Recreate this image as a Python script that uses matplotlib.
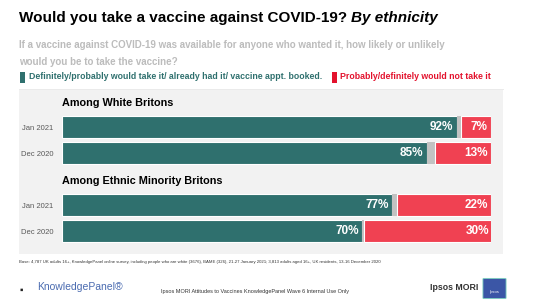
import matplotlib.pyplot as plt
from matplotlib.patches import Rectangle, FancyBboxPatch

plt.rcParams['font.family'] = ['Liberation Sans', 'DejaVu Sans']

W, H = 533, 300

# data
periods = ["Jan 2021", "Dec 2020", "Jan 2021", "Dec 2020"]
would_take = [92, 85, 77, 70]
dont_know = [1, 2, 1, 0.5]
would_not = [7, 13, 22, 30]
groups = ["Among White Britons", "Among Ethnic Minority Britons"]
positions = [0, 1, 3, 4]

TEAL = "#2f706e"
RED = "#f04152"
GREY = "#c2c2c2"


def fx(x):
    return x / W


def fy(y):
    return 1 - y / H


fig = plt.figure(figsize=(W / 100, H / 100), dpi=100)
fig.patch.set_facecolor("white")
renderer = fig.canvas.get_renderer()

# header
t1 = fig.text(fx(19), fy(18), "Would you take a vaccine against COVID-19? ", fontsize=11,
              fontweight="bold", va="center", ha="left")
x_end = t1.get_window_extent(renderer).x1 / fig.bbox.width
fig.text(x_end, fy(18), "By ethnicity", fontsize=11, fontweight="bold",
         style="italic", va="center", ha="left")
fig.text(fx(19), fy(45), "If a vaccine against COVID-19 was available for anyone who wanted it, how likely or unlikely",
         fontsize=7.0, fontweight="bold", color="#bcbcbc", va="center")
fig.text(fx(19), fy(62), "would you be to take the vaccine?",
         fontsize=7.0, fontweight="bold", color="#bcbcbc", va="center")

# legend
fig.patches.append(Rectangle((fx(20), fy(83)), fx(5), 11 / H, transform=fig.transFigure,
                             facecolor=TEAL, edgecolor="none"))
fig.text(fx(29), fy(77), "Definitely/probably would take it/ already had it/ vaccine appt. booked.",
         fontsize=6.3, fontweight="bold", color=TEAL, va="center")
fig.patches.append(Rectangle((fx(332), fy(83)), fx(5), 11 / H, transform=fig.transFigure,
                             facecolor="#e3122d", edgecolor="none"))
fig.text(fx(340), fy(77), "Probably/definitely would not take it",
         fontsize=6.3, fontweight="bold", color="#e3122d", va="center")
fig.add_artist(plt.Line2D([fx(19), fx(503)], [fy(89), fy(89)], transform=fig.transFigure,
                          color="#e6e6e6", linewidth=0.6))

# grey panel
fig.patches.append(Rectangle((fx(19), fy(254)), fx(484), 164 / H, transform=fig.transFigure,
                             facecolor="#f2f2f2", edgecolor="none", zorder=-5))

fig.text(fx(62), fy(103), groups[0], fontsize=7.8, fontweight="bold", va="center")
fig.text(fx(62), fy(181), groups[1], fontsize=7.8, fontweight="bold", va="center")

# bars
ax = fig.add_axes([fx(62), fy(244), fx(491) - fx(62), 130 / H])
ax.set_facecolor("none")
ax.set_zorder(2)
h = 0.85
ax.barh(positions, would_take, height=h, color=TEAL, edgecolor="white", linewidth=0.8)
ax.barh(positions, dont_know, left=would_take, height=h, color=GREY, edgecolor="none")
lefts3 = [a + b for a, b in zip(would_take, dont_know)]
ax.barh(positions, would_not, left=lefts3, height=h, color=RED, edgecolor="white", linewidth=0.8)

for p, a, b, c in zip(positions, would_take, dont_know, would_not):
    ax.text(a - 0.8, p, f"{a}%", color="white", fontsize=8.5, fontweight="bold",
            ha="right", va="center")
    ax.text(a + b + c - 0.8, p, f"{c}%", color="white", fontsize=8.5, fontweight="bold",
            ha="right", va="center")

ax.set_xlim(0, 100)
ax.set_ylim(4.5, -0.5)
ax.set_yticks(positions)
ax.set_yticklabels(periods, fontsize=5.5, color="#595959")
ax.tick_params(axis="y", length=0, pad=6)
ax.set_xticks([])
for s in ax.spines.values():
    s.set_visible(False)

# footer
fig.text(fx(19), fy(262), "Base: 4,787 UK adults 16+, KnowledgePanel online survey, including people who are white (3676), "
         "BAME (326), 21-27 January 2021; 3,813 adults aged 16+, UK residents, 13-16 December 2020",
         fontsize=3.1, color="#333333", va="center")
fig.text(fx(19), fy(290), "\u25aa", fontsize=7, color="#222222", va="center")
fig.text(fx(37), fy(287), "KnowledgePanel\u00ae", fontsize=7.5, color="#4a6bb0", va="center")
fig.text(fx(255), fy(292), "Ipsos MORI Attitudes to Vaccines KnowledgePanel Wave 6 Internal Use Only",
         fontsize=4.0, color="#333333", ha="center", va="center")
fig.text(fx(478), fy(287), "Ipsos MORI", fontsize=6.3, fontweight="bold", color="#333333",
         ha="right", va="center")
fig.patches.append(FancyBboxPatch((fx(484), fy(298)), fx(21), 19 / H, transform=fig.transFigure,
                                  boxstyle="round,pad=0.002", facecolor="#3b56a6",
                                  edgecolor="#7fd3c0", linewidth=0.6))
fig.text(fx(494.5), fy(292), "Ipsos", fontsize=3, color="white", ha="center", va="center")

fig.savefig("out.png", dpi=100, facecolor="white")
